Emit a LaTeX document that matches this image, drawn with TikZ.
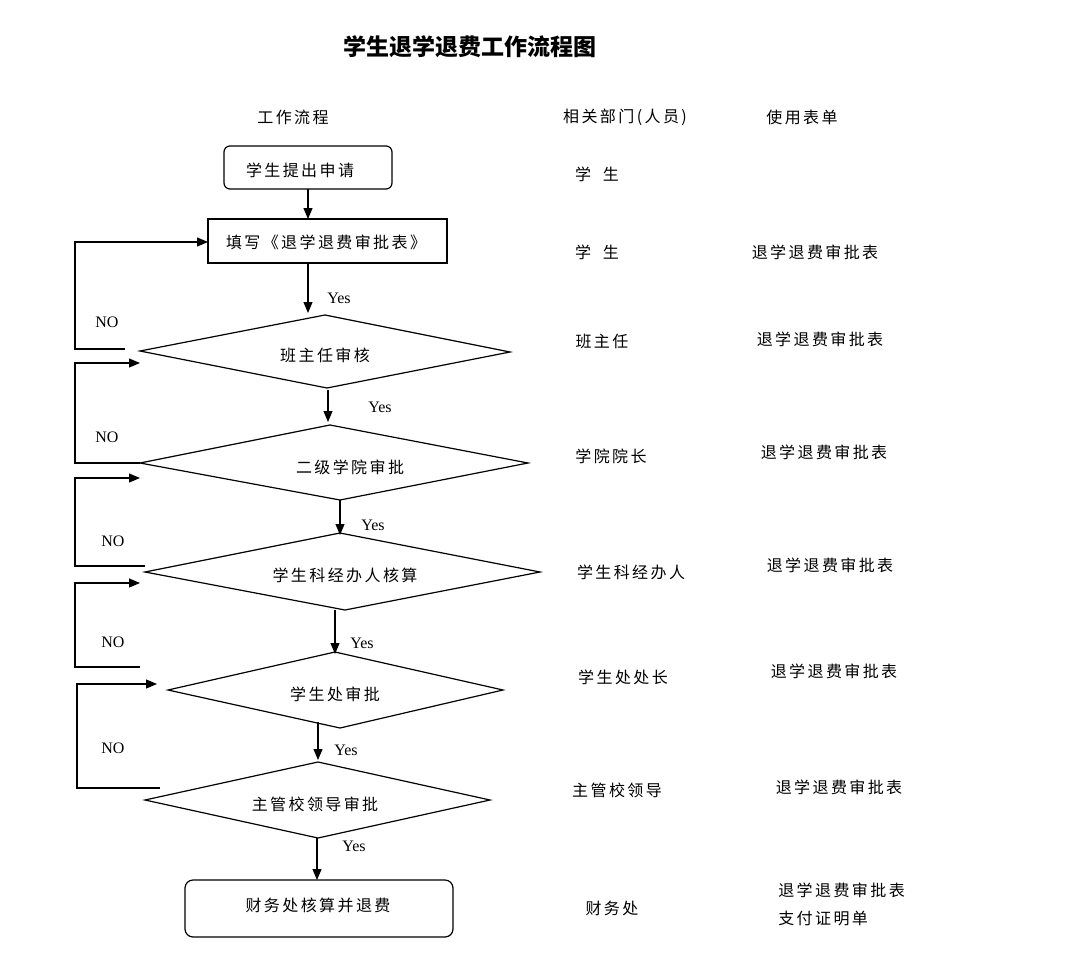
\documentclass[tikz,border=0pt]{standalone}
\usepackage{fontspec}
\setmainfont{Liberation Serif}
\newfontfamily\cjk[LetterSpace=15]{Noto Sans CJK SC}
\newfontfamily\cjktitle{Noto Sans CJK SC}
\usetikzlibrary{arrows.meta}

\tikzset{every picture/.style={line width=1.2pt}}
\tikzset{
  txt/.style={font=\cjk\fontsize{16}{18}\selectfont, inner sep=0.75pt},
  lbl/.style={font=\fontsize{16}{18}\selectfont, inner sep=0.75pt},
  flow/.style={-{Triangle[length=11pt,width=9pt]}}
}

\begin{document}
\begin{tikzpicture}[x=1pt,y=-1pt]
\useasboundingbox (0,0) rectangle (1076,958);

% title and headers
\node (title) at (470,47) [font=\cjktitle\bfseries\fontsize{23}{26}\selectfont] {学生退学退费工作流程图};
\node (hflow) at (293,117) [txt] {工作流程};
\node (hdept) at (625,117) [txt] {相关部门(人员)};
\node (hform) at (802,117) [txt] {使用表单};

% boxes
\draw [rounded corners=6pt] (224,146) rectangle (392,189);
\node (apply) at (300,170) [txt] {学生提出申请};
\coordinate (applyB) at (308,189);
\draw (208,219) rectangle (447,263);
\node (fill) at (326,242) [txt] {填写《退学退费审批表》};
\coordinate (fillT) at (308,219);
\coordinate (fillB) at (308,263);
\coordinate (fillL) at (208,242);
\draw [rounded corners=8pt] (185,880) rectangle (453,937);
\node (pay) at (318,905) [txt] {财务处核算并退费};
\coordinate (payT) at (317,880);

% diamonds
\draw (140,351) -- (325,315) -- (510,352) -- (327,388) -- cycle;
\node (d1) at (325,355) [txt] {班主任审核};
\draw (140,463) -- (330,425) -- (528,463) -- (340,500) -- cycle;
\node (d2) at (350,467) [txt] {二级学院审批};
\draw (145,572) -- (340,533) -- (540,572) -- (345,610) -- cycle;
\node (d3) at (345,575) [txt] {学生科经办人核算};
\draw (168,690) -- (335,652) -- (503,690) -- (340,728) -- cycle;
\node (d4) at (335,694) [txt] {学生处审批};
\draw (145,800) -- (318,762) -- (490,800) -- (318,838) -- cycle;
\node (d5) at (315,804) [txt] {主管校领导审批};

% yes arrows
\draw [flow] (applyB) -- (fillT);
\draw [flow] (fillB) -- (308,313);
\draw [flow] (328,390) -- (328,422);
\draw [flow] (340,500) -- (340,535);
\draw [flow] (335,610) -- (335,654);
\draw [flow] (318,722) -- (318,760);
\draw [flow] (317,838) -- (payT);
\node (y1) at (339,298) [lbl] {Yes};
\node (y2) at (380,407) [lbl] {Yes};
\node (y3) at (373,525) [lbl] {Yes};
\node (y4) at (362,643) [lbl] {Yes};
\node (y5) at (346,750) [lbl] {Yes};
\node (y6) at (354,846) [lbl] {Yes};

% no loops
\draw [flow] (125,349) -- (75,349) -- (75,242) -- (fillL);
\draw [flow] (140,463) -- (75,463) -- (75,363) -- (140,363);
\draw [flow] (145,566) -- (75,566) -- (75,478) -- (140,478);
\draw [flow] (140,667) -- (75,667) -- (75,583) -- (140,583);
\draw [flow] (160,788) -- (77,788) -- (77,684) -- (157,684);
\node (n1) at (107,322) [lbl] {NO};
\node (n2) at (107,437) [lbl] {NO};
\node (n3) at (113,541) [lbl] {NO};
\node (n4) at (113,642) [lbl] {NO};
\node (n5) at (113,748) [lbl] {NO};

% departments
\node (p1) at (597,174) [txt] {学\ \ 生};
\node (p2) at (597,252) [txt] {学\ \ 生};
\node (p3) at (602,341) [txt] {班主任};
\node (p4) at (611,456) [txt] {学院院长};
\node (p5) at (631,572) [txt] {学生科经办人};
\node (p6) at (623,677) [txt] {学生处处长};
\node (p7) at (617,790) [txt] {主管校领导};
\node (p8) at (612,908) [txt] {财务处};

% forms
\node (f2) at (815,252) [txt] {退学退费审批表};
\node (f3) at (820,339) [txt] {退学退费审批表};
\node (f4) at (824,452) [txt] {退学退费审批表};
\node (f5) at (830,565) [txt] {退学退费审批表};
\node (f6) at (834,671) [txt] {退学退费审批表};
\node (f7) at (839,787) [txt] {退学退费审批表};
\node (f8) at (777,890) [txt,anchor=west] {退学退费审批表};
\node (f9) at (777,918) [txt,anchor=west] {支付证明单};

\end{tikzpicture}
\end{document}
